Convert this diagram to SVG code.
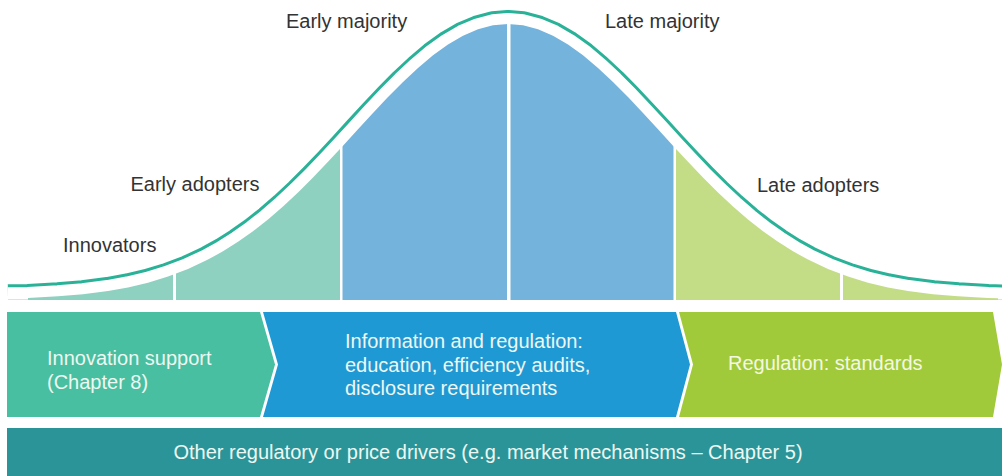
<svg xmlns="http://www.w3.org/2000/svg" width="1002" height="476" viewBox="0 0 1002 476">
  <style>
    .lbl { font-family: "Liberation Sans", Arial, sans-serif; font-size: 20px; fill: #333333; }
    .wt { font-family: "Liberation Sans", Arial, sans-serif; font-size: 20px; fill: #eef7f1; }
    .wg { font-family: "Liberation Sans", Arial, sans-serif; font-size: 20px; fill: #f4f8e2; }
    .seg-teal { fill: #8ed1c1; }
    .seg-blue { fill: #74b3dc; }
    .seg-green { fill: #c3dd87; }
  </style>
  <defs>
    <path id="curveTop" d="M8,298.3 L28,298.0 L58,296.3 L83,294.2 L108,291.0 L128,287.4 L148,282.7 L168,276.6 L188,269.0 L208,259.6 L223,251.3 L238,241.8 L253,231.2 L268,219.4 L283,206.4 L298,192.4 L313,177.5 L328,161.8 L343,145.7 L358,129.3 L373,113.0 L388,97.1 L403,81.9 L418,67.9 L433,55.2 L448,44.4 L463,35.7 L478,29.3 L493,25.3 L508,24.0 L523,25.3 L538,29.3 L553,35.7 L568,44.4 L583,55.2 L598,67.9 L613,81.9 L628,97.1 L643,113.0 L658,129.3 L673,145.7 L688,161.8 L703,177.5 L718,192.4 L733,206.4 L748,219.4 L763,231.2 L778,241.8 L793,251.3 L808,259.6 L828,269.0 L848,276.6 L868,282.7 L888,287.4 L908,291.0 L933,294.2 L958,296.3 L988,298.0 L1018,298.9"/>
    <path id="fillShape" d="M28,300 L28,298.0 L58,296.3 L83,294.2 L108,291.0 L128,287.4 L148,282.7 L168,276.6 L188,269.0 L208,259.6 L223,251.3 L238,241.8 L253,231.2 L268,219.4 L283,206.4 L298,192.4 L313,177.5 L328,161.8 L343,145.7 L358,129.3 L373,113.0 L388,97.1 L403,81.9 L418,67.9 L433,55.2 L448,44.4 L463,35.7 L478,29.3 L493,25.3 L508,24.0 L523,25.3 L538,29.3 L553,35.7 L568,44.4 L583,55.2 L598,67.9 L613,81.9 L628,97.1 L643,113.0 L658,129.3 L673,145.7 L688,161.8 L703,177.5 L718,192.4 L733,206.4 L748,219.4 L763,231.2 L778,241.8 L793,251.3 L808,259.6 L828,269.0 L848,276.6 L868,282.7 L888,287.4 L908,291.0 L933,294.2 L958,296.3 L988,298.0 L998,298.3 L998,300 Z"/>
    <clipPath id="aboveBase"><rect x="0" y="0" width="1002" height="299.5"/></clipPath>
    <clipPath id="fillClip"><use href="#fillShape"/></clipPath>
  </defs>

  <g id="curve-outline" clip-path="url(#aboveBase)" fill="none" stroke-linejoin="round">
    <use href="#curveTop" stroke="#2ab298" stroke-width="28"/>
    <use href="#curveTop" stroke="#ffffff" stroke-width="22"/>
  </g>

  <g id="curve-fill">
    <use href="#fillShape" fill="#ffffff"/>
    <g clip-path="url(#fillClip)">
      <rect id="seg-innovators" class="seg-teal" x="20" y="0" width="153" height="300"/>
      <rect id="seg-early-adopters" class="seg-teal" x="176" y="0" width="164" height="300"/>
      <rect id="seg-early-majority" class="seg-blue" x="342.5" y="0" width="164.5" height="300"/>
      <rect id="seg-late-majority" class="seg-blue" x="510.5" y="0" width="163" height="300"/>
      <rect id="seg-late-adopters" class="seg-green" x="676" y="0" width="164" height="300"/>
      <rect id="seg-laggards" class="seg-green" x="843" y="0" width="160" height="300"/>
    </g>
  </g>

  <g id="label-innovators"><text class="lbl" x="63" y="252">Innovators</text></g>
  <g id="label-early-adopters"><text class="lbl" x="130.5" y="191">Early adopters</text></g>
  <g id="label-early-majority"><text class="lbl" x="286" y="28">Early majority</text></g>
  <g id="label-late-majority"><text class="lbl" x="605" y="28">Late majority</text></g>
  <g id="label-late-adopters"><text class="lbl" x="757" y="192">Late adopters</text></g>

  <g id="chevron-innovation">
    <path d="M7,312 L260,312 L275,364.5 L260,417 L7,417 Z" fill="#48bfa0"/>
    <text class="wt" x="47" y="365">Innovation support</text>
    <text class="wt" x="47" y="389">(Chapter 8)</text>
  </g>
  <g id="chevron-information">
    <path d="M263,312 L676,312 L690,364.5 L676,417 L263,417 L278,364.5 Z" fill="#1f99d4"/>
    <text class="wt" x="345" y="348">Information and regulation:</text>
    <text class="wt" x="345" y="371.5">education, efficiency audits,</text>
    <text class="wt" x="345" y="395">disclosure requirements</text>
  </g>
  <g id="chevron-regulation">
    <path d="M679,312 L993,312 L1002,364.5 L993,417 L679,417 L693,364.5 Z" fill="#a1ca3a"/>
    <text class="wg" x="728" y="370">Regulation: standards</text>
  </g>

  <g id="bar-other">
    <rect x="7" y="428" width="995" height="48" fill="#2a9499"/>
    <text class="wt" x="488" y="459" text-anchor="middle">Other regulatory or price drivers (e.g. market mechanisms – Chapter 5)</text>
  </g>
</svg>
